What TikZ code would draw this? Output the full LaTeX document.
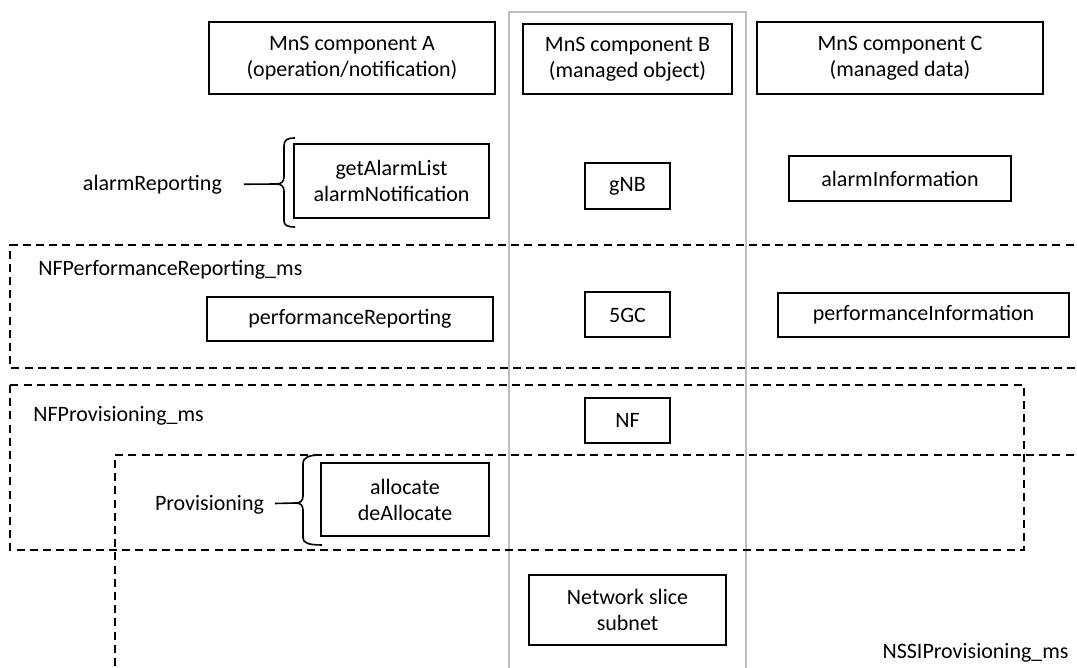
\documentclass[tikz,border=0pt]{standalone}
\usepackage{fontspec}
\setmainfont{Carlito}
\usepackage{tikz}
\colorlet{col_frame}{black!25}
\tikzset{
    mnsbox/.style={draw,line width=1pt,align=center,inner sep=0pt},
    msgroup/.style={line width=0.9pt,dash pattern=on 4pt off 2.6pt},
    grplabel/.style={inner sep=0pt,anchor=west},
    grpbrace/.style={line width=0.8pt},
}

\begin{document}
\begin{tikzpicture}[x=0.5pt,y=-0.5pt,font=\fontsize{11}{13}\selectfont]
  \clip (0,0) rectangle (1077,668);
  % column of component B
  \draw[col_frame,line width=0.8pt] (509,700) -- (509,12) -- (746,12) -- (746,700);
  % management service groups
  \draw[msgroup] (1100,245) -- (10,245) -- (10,368) -- (1100,368);
  \draw[msgroup] (10,385) rectangle (1024,550);
  \draw[msgroup] (1100,455) -- (115,455) -- (115,700);
  \node[grplabel] (nfperf) at (38,270) {NFPerformanceReporting\_ms};
  \node[grplabel] (nfprov) at (33,416) {NFProvisioning\_ms};
  \node[inner sep=0pt,anchor=east] (nssiprov) at (1069,653) {NSSIProvisioning\_ms};
  % header
  \node[mnsbox,minimum width=143pt,minimum height=36pt] (compA) at (352,58) {MnS component A\\(operation/notification)};
  \node[mnsbox,minimum width=104.5pt,minimum height=35pt] (compB) at (627.5,59) {MnS component B\\(managed object)};
  \node[mnsbox,minimum width=143pt,minimum height=36pt] (compC) at (900,58) {MnS component C\\(managed data)};
  % alarm reporting
  \node[mnsbox,minimum width=97.5pt,minimum height=37pt] (alarmops) at (391.5,181) {getAlarmList\\alarmNotification};
  \node[mnsbox,minimum width=42.5pt,minimum height=23pt] (gnb) at (627.5,186) {gNB};
  \node[mnsbox,minimum width=111pt,minimum height=22.5pt] (alarminfo) at (900,179) {alarmInformation};
  \node[grplabel,outer xsep=11pt] (alarmrep) at (61,185) {alarmReporting};
  \coordinate (alarmtip) at (276,184);
  \draw[grpbrace] (295,138) .. controls (287,138) and (284,140) .. (284,146) -- (284,177)
    .. controls (284,182) and (281,184) .. (alarmtip) .. controls (281,184) and (284,186) .. (284,191)
    -- (284,221) .. controls (284,225) and (287,227) .. (295,227);
  \draw[grpbrace] (alarmrep) -- (alarmtip);
  % performance reporting
  \node[mnsbox,minimum width=143pt,minimum height=22pt] (perfrep) at (350,319) {performanceReporting};
  \node[mnsbox,minimum width=42.5pt,minimum height=22.5pt] (fivegc) at (627.5,315) {5GC};
  \node[mnsbox,minimum width=145.5pt,minimum height=22pt] (perfinfo) at (923.5,315) {performanceInformation};
  % provisioning
  \node[mnsbox,minimum width=42.5pt,minimum height=22.5pt] (nf) at (627.5,420.5) {NF};
  \node[mnsbox,minimum width=84pt,minimum height=36.5pt] (allocops) at (405,499.5) {allocate\\deAllocate};
  \node[grplabel,outer xsep=5.5pt] (prov) at (144,505) {Provisioning};
  \coordinate (provtip) at (296,503);
  \draw[grpbrace] (322,455) .. controls (309,455) and (303,457) .. (303,464) -- (303,496)
    .. controls (303,501) and (300,503) .. (provtip) .. controls (300,503) and (303,505) .. (303,510)
    -- (303,538) .. controls (303,543) and (309,545) .. (322,545);
  \draw[grpbrace] (prov) -- (provtip);
  \node[mnsbox,minimum width=98.5pt,minimum height=35pt] (nssubnet) at (627.5,610) {Network slice\\subnet};
\end{tikzpicture}
\end{document}
